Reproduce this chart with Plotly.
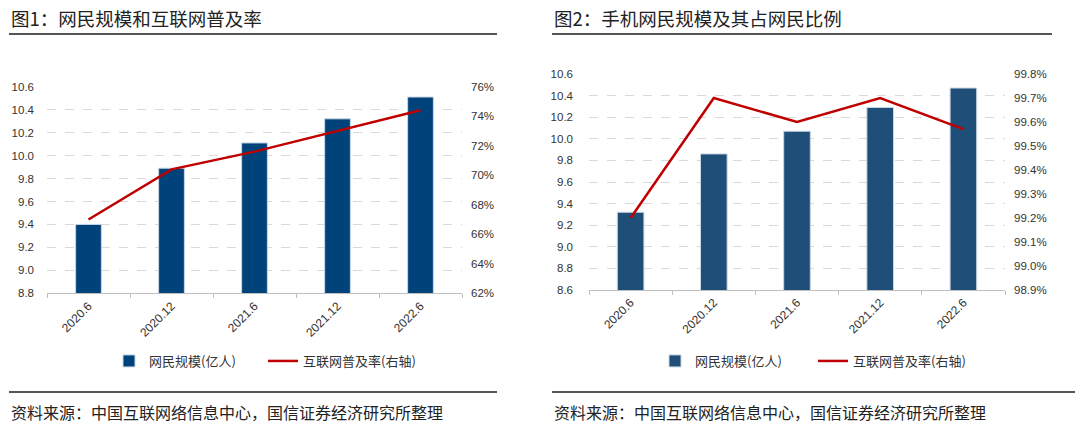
import plotly.graph_objects as go

# ---- data ----
periods = ["2020.6", "2020.12", "2021.6", "2021.12", "2022.6"]
netizens = [9.40, 9.89, 10.11, 10.32, 10.51]          # 网民规模(亿人)
penetration = [67.0, 70.4, 71.6, 73.0, 74.4]           # 互联网普及率 %
mobile_netizens = [9.32, 9.86, 10.07, 10.29, 10.47]    # 手机网民规模(亿人)
mobile_share = [99.2, 99.7, 99.6, 99.7, 99.57]         # 占网民比例 %

title1 = "图1：网民规模和互联网普及率"
title2 = "图2：手机网民规模及其占网民比例"
source = "资料来源：中国互联网络信息中心，国信证券经济研究所整理"
bar_name1 = "网民规模(亿人)"
bar_name2 = "网民规模(亿人)"
line_name = "互联网普及率(右轴)"

W, H = 1080, 430
def px(x): return x / W
def py(y): return 1 - y / H

BAR1 = "#00437A"
BAR2 = "#1F4E79"
RED = "#C00000"
TXT = "#333333"
GRID = "#D9D9D9"
TICKFONT = dict(family="Liberation Sans, Arial", size=11.5, color=TXT)
CJK = "Noto Sans CJK SC"

fig = go.Figure()

fig.add_trace(go.Bar(x=periods, y=netizens, name=bar_name1, marker=dict(color=BAR1, line=dict(color="#C9D6E3", width=1)),
                     width=0.31, xaxis="x", yaxis="y", legend="legend"))
fig.add_trace(go.Scatter(x=periods, y=penetration, name=line_name, mode="lines",
                         line=dict(color=RED, width=2.5), xaxis="x", yaxis="y2", legend="legend"))
fig.add_trace(go.Bar(x=periods, y=mobile_netizens, name=bar_name2, marker=dict(color=BAR2, line=dict(color="#C9D6E3", width=1)),
                     width=0.32, xaxis="x2", yaxis="y3", legend="legend2"))
fig.add_trace(go.Scatter(x=periods, y=mobile_share, name=line_name, mode="lines",
                         line=dict(color=RED, width=2.5), xaxis="x2", yaxis="y4", legend="legend2"))

xcommon = dict(type="category", tickangle=-45, tickfont=dict(family="Liberation Sans, Arial", size=12, color=TXT),
               showline=True, linecolor="#BFBFBF", linewidth=1, ticks="outside", tickson="boundaries",
               ticklen=4, tickcolor="#BFBFBF", showgrid=False, zeroline=False, range=[-0.5, 4.5], fixedrange=True,
               automargin=False)

fig.update_layout(
    width=W, height=H, margin=dict(l=0, r=0, t=0, b=0, pad=0, autoexpand=False),
    paper_bgcolor="white", plot_bgcolor="white",
    xaxis=dict(domain=[px(47), px(462)], anchor="y", **xcommon),
    yaxis=dict(domain=[py(293.3), py(86.7)], range=[8.8, 10.6], dtick=0.2, tickformat=".1f",
               showgrid=True, gridcolor=GRID, griddash="dash", gridwidth=1, zeroline=False,
               tickfont=TICKFONT, ticks="", showline=False, automargin=False, ticklabelstandoff=12),
    yaxis2=dict(overlaying="y", side="right", anchor="x", range=[62, 76], dtick=2, ticksuffix="%",
                showgrid=False, zeroline=False, tickfont=TICKFONT, automargin=False, ticklabelstandoff=8),
    xaxis2=dict(domain=[px(589), px(1005)], anchor="y3", **xcommon),
    yaxis3=dict(domain=[py(290), py(74)], anchor="x2", range=[8.6, 10.6], dtick=0.2, tickformat=".1f",
                showgrid=True, gridcolor=GRID, griddash="dash", gridwidth=1, zeroline=False,
                tickfont=TICKFONT, ticks="", showline=False, automargin=False, ticklabelstandoff=15),
    yaxis4=dict(overlaying="y3", side="right", anchor="x2", range=[98.9, 99.8], dtick=0.1, tickformat=".1f",
                ticksuffix="%", showgrid=False, zeroline=False, tickfont=TICKFONT, automargin=False,
                ticklabelstandoff=8),
    legend=dict(orientation="h", x=px(109), y=py(361), xanchor="left", yanchor="middle",
                font=dict(family=CJK, size=13, color=TXT), bgcolor="rgba(0,0,0,0)", entrywidth=109,
                itemwidth=30, traceorder="normal"),
    legend2=dict(orientation="h", x=px(655), y=py(361), xanchor="left", yanchor="middle",
                 font=dict(family=CJK, size=13, color=TXT), bgcolor="rgba(0,0,0,0)", entrywidth=113,
                 itemwidth=30, traceorder="normal"),
    showlegend=True,
    bargap=0.2,
)

annotations = [
    dict(text=title1, x=px(9), y=py(18), xref="paper", yref="paper", xanchor="left", yanchor="middle",
         showarrow=False, font=dict(family=CJK, size=18.5, color="#222222")),
    dict(text=title2, x=px(552), y=py(18), xref="paper", yref="paper", xanchor="left", yanchor="middle",
         showarrow=False, font=dict(family=CJK, size=18.5, color="#222222")),
    dict(text=source, x=px(9), y=py(412), xref="paper", yref="paper", xanchor="left", yanchor="middle",
         showarrow=False, font=dict(family=CJK, size=16, color="#222222")),
    dict(text=source, x=px(552), y=py(412), xref="paper", yref="paper", xanchor="left", yanchor="middle",
         showarrow=False, font=dict(family=CJK, size=16, color="#222222")),
]
shapes = [
    dict(type="line", xref="paper", yref="paper", x0=px(9), x1=px(497), y0=py(34), y1=py(34), line=dict(color="#555555", width=2)),
    dict(type="line", xref="paper", yref="paper", x0=px(552), x1=px(1052), y0=py(34), y1=py(34), line=dict(color="#555555", width=2)),
    dict(type="line", xref="paper", yref="paper", x0=px(9), x1=px(497), y0=py(392), y1=py(392), line=dict(color="#555555", width=2)),
    dict(type="line", xref="paper", yref="paper", x0=px(552), x1=px(1075), y0=py(392), y1=py(392), line=dict(color="#555555", width=2)),
]
fig.update_layout(annotations=annotations, shapes=shapes)

fig.write_html("out.html", config={"displayModeBar": False},
               post_script="document.body.style.margin='0';document.body.style.padding='0';")
